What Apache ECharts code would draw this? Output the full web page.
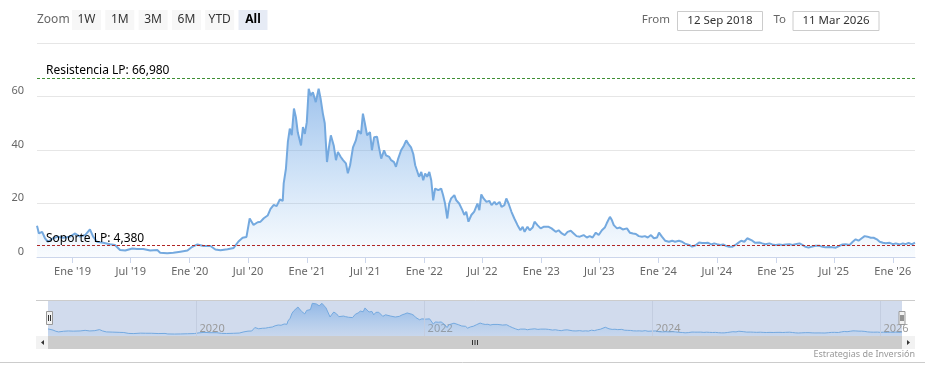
<!DOCTYPE html>
<html>
<head>
<meta charset="utf-8">
<script src="https://cdn.jsdelivr.net/npm/echarts@6/dist/echarts.min.js"></script>
<style>
html,body{margin:0;padding:0;background:#fff;}
#chart{width:925px;height:384px;}
</style>
</head>
<body>
<div id="chart"></div>
<script>
// ---- data ----
const dates = [
'2018-09-12','2018-09-18','2018-09-28','2018-10-07','2018-10-16','2018-11-01','2018-11-16','2018-12-02','2018-12-24',
'2019-01-09','2019-01-24','2019-02-09','2019-02-24','2019-03-06','2019-03-18','2019-04-06','2019-04-28','2019-05-13','2019-05-29',
'2019-06-14','2019-07-06','2019-07-21','2019-08-09','2019-08-31','2019-09-22','2019-10-01','2019-10-23','2019-11-11','2019-12-03','2019-12-25',
'2020-01-09','2020-01-25','2020-02-13','2020-03-06','2020-03-21','2020-04-06','2020-04-28','2020-05-17','2020-06-01','2020-06-14','2020-06-26',
'2020-07-06','2020-07-18','2020-07-31','2020-08-09','2020-08-19','2020-08-31','2020-09-09','2020-09-19','2020-09-28','2020-10-08','2020-10-17',
'2020-10-20','2020-10-27','2020-11-02','2020-11-08','2020-11-14','2020-11-21','2020-11-27','2020-12-03','2020-12-13','2020-12-19','2020-12-25','2020-12-31',
'2021-01-06','2021-01-12','2021-01-19','2021-01-28','2021-02-06','2021-02-12','2021-02-19','2021-02-25','2021-03-04','2021-03-10','2021-03-16','2021-03-25',
'2021-04-01','2021-04-07','2021-04-16','2021-04-23','2021-05-02','2021-05-08','2021-05-15','2021-05-24','2021-06-02','2021-06-09','2021-06-18','2021-06-24','2021-06-30',
'2021-07-07','2021-07-16','2021-07-22','2021-07-29','2021-08-07','2021-08-13','2021-08-20','2021-08-29','2021-09-04','2021-09-14','2021-09-20','2021-09-29',
'2021-10-05','2021-10-12','2021-10-21','2021-10-30','2021-11-06','2021-11-12','2021-11-21','2021-11-28','2021-12-04','2021-12-10','2021-12-16','2021-12-23','2021-12-29',
'2022-01-04','2022-01-10','2022-01-17','2022-01-23','2022-01-29','2022-02-04','2022-02-14','2022-02-23','2022-03-01','2022-03-07','2022-03-14','2022-03-20','2022-03-26',
'2022-04-05','2022-04-11','2022-04-20','2022-04-30','2022-05-06','2022-05-12','2022-05-19','2022-05-28','2022-06-06','2022-06-16','2022-06-22','2022-06-28',
'2022-07-05','2022-07-14','2022-07-23','2022-07-30','2022-08-08','2022-08-14','2022-08-24','2022-08-30','2022-09-08','2022-09-14','2022-09-21','2022-09-30',
'2022-10-09','2022-10-19','2022-10-28','2022-11-04','2022-11-10','2022-11-19','2022-11-26','2022-12-05','2022-12-11','2022-12-20','2022-12-30',
'2023-01-08','2023-01-14','2023-01-24','2023-02-02','2023-02-15','2023-02-24','2023-03-06','2023-03-15','2023-03-24','2023-04-03','2023-04-12','2023-04-21',
'2023-05-01','2023-05-13','2023-05-23','2023-06-01','2023-06-10','2023-06-20','2023-06-29','2023-07-09','2023-07-18','2023-07-24','2023-08-03','2023-08-09',
'2023-08-15','2023-08-25','2023-09-03','2023-09-12','2023-09-25','2023-10-04','2023-10-14','2023-10-23','2023-11-01','2023-11-11','2023-11-20','2023-11-29',
'2023-12-09','2023-12-18','2023-12-28',
'2024-01-03','2024-01-12','2024-01-22','2024-02-03','2024-02-13','2024-02-22','2024-03-05','2024-03-15','2024-03-24','2024-04-06','2024-04-15','2024-04-25',
'2024-05-07','2024-05-16','2024-05-26','2024-06-04','2024-06-14','2024-06-23','2024-07-02','2024-07-12','2024-07-21','2024-07-31','2024-08-09','2024-08-18',
'2024-08-28','2024-09-06','2024-09-15','2024-09-25','2024-10-04','2024-10-10','2024-10-20','2024-10-29','2024-11-11','2024-11-20','2024-11-30','2024-12-12',
'2024-12-21','2024-12-31',
'2025-01-12','2025-01-22','2025-01-31','2025-02-13','2025-02-22','2025-03-03','2025-03-16','2025-03-25','2025-04-04','2025-04-13','2025-04-22','2025-05-05',
'2025-05-17','2025-05-27','2025-06-05','2025-06-18','2025-06-27','2025-07-07','2025-07-19','2025-07-28','2025-08-07','2025-08-19','2025-08-29','2025-09-07',
'2025-09-16','2025-09-26','2025-10-05','2025-10-14','2025-10-24','2025-11-02','2025-11-12','2025-11-21','2025-12-01','2025-12-10','2025-12-22',
'2026-01-01','2026-01-10','2026-01-23','2026-02-01','2026-02-10','2026-02-19','2026-03-01','2026-03-11'
];
const values = [
11.7,8.8,9.4,7.0,5.7,7.0,7.6,7.2,7.6,
8.8,7.6,8.2,10.3,7.6,5.7,5.3,4.8,4.5,2.6,
2.4,3.2,3.0,3.0,2.4,2.6,1.6,1.4,1.6,2.0,2.4,
3.8,4.7,4.1,4.1,2.8,2.5,2.9,3.4,5.8,7.2,7.5,
14.4,12.0,13.0,13.2,14.5,15.5,18.0,19.5,19.0,21.5,21.0,
27.5,33.0,43.0,48.0,45.5,55.5,52.3,46.5,41.7,48.6,46.0,50.4,
62.9,60.4,61.6,57.9,62.9,59.3,53.7,50.0,35.5,41.0,45.5,41.7,
36.2,39.3,37.4,36.2,35.0,31.3,34.3,41.0,43.6,47.3,46.0,53.6,50.0,
45.5,46.7,39.9,44.8,45.0,41.0,36.8,39.9,38.0,37.4,36.2,35.5,
33.7,36.8,39.9,41.7,43.6,42.4,41.0,38.5,34.3,35.0,30.0,31.8,28.7,
31.2,30.0,31.8,28.7,21.2,25.6,25.0,25.6,23.1,20.0,14.4,20.0,21.9,
23.1,21.2,20.0,17.5,15.7,16.9,13.2,15.7,17.0,20.0,17.5,23.4,
21.9,20.6,21.0,19.4,20.6,19.6,20.6,18.7,19.4,21.9,20.0,16.9,
14.4,11.9,10.0,11.3,9.4,11.3,10.0,11.0,13.2,11.9,10.7,
11.3,11.9,11.3,10.7,9.4,10.0,8.8,8.2,9.4,9.8,8.8,7.8,
7.6,8.2,7.3,7.8,7.3,9.1,8.2,10.0,11.0,12.6,15.0,13.8,
11.9,10.7,11.0,10.3,10.7,9.1,8.8,8.6,7.8,7.6,7.8,7.3,
8.2,7.0,7.3,
9.1,7.6,6.1,5.7,6.1,5.7,6.1,5.7,5.0,4.5,3.9,4.3,
5.4,5.2,5.2,5.3,4.7,5.1,4.8,4.5,4.7,4.1,3.8,3.8,
4.5,5.3,6.1,5.7,7.0,7.2,6.1,5.3,5.4,5.1,4.8,5.1,
4.7,4.5,
4.7,4.5,4.7,4.8,4.5,4.8,5.1,4.5,3.8,3.5,3.8,4.2,
4.2,3.8,3.6,3.7,3.6,3.5,4.2,4.7,4.8,4.5,5.7,6.6,
6.1,7.0,7.8,7.6,7.2,7.2,6.6,5.7,5.3,5.1,5.3,
4.8,5.1,4.7,5.1,4.8,5.3,4.7,5.4
];
const resistance = 66.98;
const support = 4.38;
const rangeStart = '2018-09-12';
const rangeEnd = '2026-03-11';
const yTicks = [0, 20, 40, 60, 80];
const tickDates = ['2019-01-01','2019-07-01','2020-01-01','2020-07-01','2021-01-01','2021-07-01','2022-01-01','2022-07-01',
  '2023-01-01','2023-07-01','2024-01-01','2024-07-01','2025-01-01','2025-07-01','2026-01-01'];
const tickLabels = ["Ene '19","Jul '19","Ene '20","Jul '20","Ene '21","Jul '21","Ene '22","Jul '22",
  "Ene '23","Jul '23","Ene '24","Jul '24","Ene '25","Jul '25","Ene '26"];
const navTickDates = ['2020-01-01','2022-01-01','2024-01-01','2026-01-01'];
const navTickLabels = ['2020','2022','2024','2026'];
const rangeButtons = ['1W','1M','3M','6M','YTD','All'];
const fromText = '12 Sep 2018';
const toText = '11 Mar 2026';
const creditText = 'Estrategias de Inversión';

// ---- helpers ----
const ts = d => { const p = d.split('-').map(Number); return Date.UTC(p[0], p[1]-1, p[2]); };
const seriesData = dates.map((d, i) => [ts(d), values[i]]);
const tickValues = tickDates.map(ts);
const navTickValues = navTickDates.map(ts);
const nearestLabel = (v, vals, labels) => {
  let best = -1, bd = Infinity;
  vals.forEach((t, i) => { const dd = Math.abs(t - v); if (dd < bd) { bd = dd; best = i; } });
  return bd < 86400000 * 3 ? labels[best] : '';
};
const fmt3 = v => v.toFixed(3).replace('.', ',');
const FONT = '"Noto Sans", "DejaVu Sans", sans-serif';

const chart = echarts.init(document.getElementById('chart'), null, {renderer: 'canvas', width: 925, height: 384});

// ---- decorations (range selector, inputs, scrollbar, credits) ----
const graphics = [];
graphics.push({type:'text', x: 37, y: 20, style:{text:'Zoom', fill:'#666666', font:'12px ' + FONT, align:'left', verticalAlign:'middle'}});
rangeButtons.forEach((b, i) => {
  const bx = 72 + i * 33.3;
  const sel = b === 'All';
  graphics.push({type:'rect', shape:{x: bx, y: 10, width: 29, height: 20}, style:{fill: sel ? '#e6ebf5' : '#f7f7f7'}});
  graphics.push({type:'text', x: bx + 14.5, y: 20, style:{text: b, fill: sel ? '#000000' : '#333333',
    font: (sel ? 'bold ' : '') + '12px ' + FONT, align:'center', verticalAlign:'middle'}});
});
graphics.push({type:'text', x: 670, y: 20, style:{text:'From', fill:'#666666', font:'11.5px ' + FONT, align:'right', verticalAlign:'middle'}});
graphics.push({type:'rect', shape:{x: 677.5, y: 11.5, width: 85, height: 19}, style:{fill:'#ffffff', stroke:'#cccccc', lineWidth:1}});
graphics.push({type:'text', x: 720, y: 21, style:{text: fromText, fill:'#333333', font:'11.5px ' + FONT, align:'center', verticalAlign:'middle'}});
graphics.push({type:'text', x: 786, y: 20, style:{text:'To', fill:'#666666', font:'11.5px ' + FONT, align:'right', verticalAlign:'middle'}});
graphics.push({type:'rect', shape:{x: 793, y: 11.5, width: 86, height: 19}, style:{fill:'#ffffff', stroke:'#cccccc', lineWidth:1}});
graphics.push({type:'text', x: 836, y: 21, style:{text: toText, fill:'#333333', font:'11.5px ' + FONT, align:'center', verticalAlign:'middle'}});

// navigator outline
graphics.push({type:'line', shape:{x1: 36, y1: 300.5, x2: 915, y2: 300.5}, style:{stroke:'#cccccc', lineWidth:1}, z: 10});
// scrollbar
graphics.push({type:'rect', shape:{x: 36, y: 336, width: 879, height: 13}, style:{fill:'#f2f2f2'}, z: 10});
graphics.push({type:'rect', shape:{x: 48, y: 336, width: 854, height: 13}, style:{fill:'#cccccc'}, z: 10});
graphics.push({type:'polygon', shape:{points:[[44,340],[44,345],[41,342.5]]}, style:{fill:'#333333'}, z: 11});
graphics.push({type:'polygon', shape:{points:[[907,340],[907,345],[910,342.5]]}, style:{fill:'#333333'}, z: 11});
[472.5, 475, 477.5].forEach(gx => graphics.push({type:'line', shape:{x1: gx, y1: 340, x2: gx, y2: 345}, style:{stroke:'#333333', lineWidth:1}, z: 11}));
// navigator handles
[[46, 311], [898.5, 311]].forEach(([hx, hy]) => {
  graphics.push({type:'rect', shape:{x: hx + 0.5, y: hy + 0.5, width: 6, height: 13}, style:{fill:'#f2f2f2', stroke:'#999999', lineWidth:1}, z: 12});
  graphics.push({type:'line', shape:{x1: hx + 2.5, y1: hy + 4, x2: hx + 2.5, y2: hy + 10}, style:{stroke:'#333333', lineWidth:1}, z: 13});
  graphics.push({type:'line', shape:{x1: hx + 4.5, y1: hy + 4, x2: hx + 4.5, y2: hy + 10}, style:{stroke:'#333333', lineWidth:1}, z: 13});
});
// credits and bottom rule
graphics.push({type:'text', x: 915, y: 354, style:{text: creditText, fill:'#999999', font:'9px ' + FONT, align:'right', verticalAlign:'middle'}});
graphics.push({type:'line', shape:{x1: 0, y1: 362.5, x2: 925, y2: 362.5}, style:{stroke:'#cccccc', lineWidth:1}});

const areaGrad = (a0, a1) => new echarts.graphic.LinearGradient(0, 0, 0, 1, [
  {offset: 0, color: 'rgba(104,160,226,' + a0 + ')'},
  {offset: 1, color: 'rgba(124,181,236,' + a1 + ')'}
]);

const option = {
  animation: false,
  backgroundColor: '#ffffff',
  textStyle: {fontFamily: FONT},
  grid: [
    {left: 37, right: 10, top: 43, height: 214, containLabel: false},
    {left: 48, right: 23, top: 300, height: 36, show: true, backgroundColor: '#d1dbed', borderWidth: 0}
  ],
  xAxis: [
    {
      type: 'value', gridIndex: 0, min: ts(rangeStart), max: ts(rangeEnd), scale: true,
      axisLine: {show: true, onZero: false, lineStyle: {color: '#ccd6eb', width: 1}},
      axisTick: {show: true, length: 6, lineStyle: {color: '#ccd6eb'}, customValues: tickValues},
      axisLabel: {customValues: tickValues, color: '#666666', fontSize: 11, fontFamily: FONT, margin: 9,
        formatter: v => nearestLabel(v, tickValues, tickLabels)},
      splitLine: {show: false}
    },
    {
      type: 'value', gridIndex: 1, min: ts(rangeStart), max: ts(rangeEnd), scale: true,
      axisLine: {show: false}, axisTick: {show: false},
      axisLabel: {customValues: navTickValues, inside: true, margin: 2, color: '#999999', fontSize: 11, fontFamily: FONT,
        align: 'left', padding: [0, 0, 0, 3], formatter: v => nearestLabel(v, navTickValues, navTickLabels)},
      splitLine: {show: false}
    }
  ],
  yAxis: [
    {
      type: 'value', gridIndex: 0, min: yTicks[0], max: yTicks[yTicks.length - 1], interval: 20,
      axisLine: {show: false}, axisTick: {show: false},
      axisLabel: {color: '#666666', fontSize: 11, fontFamily: FONT, margin: 13, verticalAlign: 'bottom',
        formatter: v => (v === yTicks[yTicks.length - 1] ? '' : String(v))},
      splitLine: {show: true, lineStyle: {color: '#e6e6e6', width: 1}}
    },
    {
      type: 'value', gridIndex: 1, min: -2.5, max: 69.5,
      axisLine: {show: false}, axisTick: {show: false}, axisLabel: {show: false}, splitLine: {show: false}
    }
  ],
  series: [
    {
      type: 'line', xAxisIndex: 0, yAxisIndex: 0, data: seriesData, showSymbol: false, symbol: 'none',
      lineStyle: {color: '#74a9df', width: 2}, itemStyle: {color: '#74a9df'},
      areaStyle: {color: areaGrad(0.9, 0.07), origin: 'start'},
      z: 2,
      markLine: {
        silent: true, symbol: ['none', 'none'], animation: false,
        label: {position: 'insideStartTop', color: '#000000', fontSize: 12, fontFamily: FONT, distance: [9, 1]},
        data: [
          {yAxis: resistance, lineStyle: {color: '#3f8f35', type: [3, 2], width: 1},
            label: {formatter: 'Resistencia LP: ' + fmt3(resistance)}},
          {yAxis: support, lineStyle: {color: '#b02626', type: [3, 2], width: 1},
            label: {formatter: 'Soporte LP: ' + fmt3(support)}}
        ]
      }
    },
    {
      type: 'line', xAxisIndex: 1, yAxisIndex: 1, data: seriesData, showSymbol: false, symbol: 'none',
      lineStyle: {color: '#74a9df', width: 1}, itemStyle: {color: '#74a9df'},
      areaStyle: {color: areaGrad(0.85, 0.15), origin: 'start'},
      markLine: {
        silent: true, symbol: ['none', 'none'], animation: false, label: {show: false},
        lineStyle: {color: '#c3cde0', type: 'solid', width: 1},
        data: navTickValues.map(v => ({xAxis: v}))
      }
    }
  ],
  graphic: graphics
};
chart.setOption(option);
</script>
</body>
</html>
